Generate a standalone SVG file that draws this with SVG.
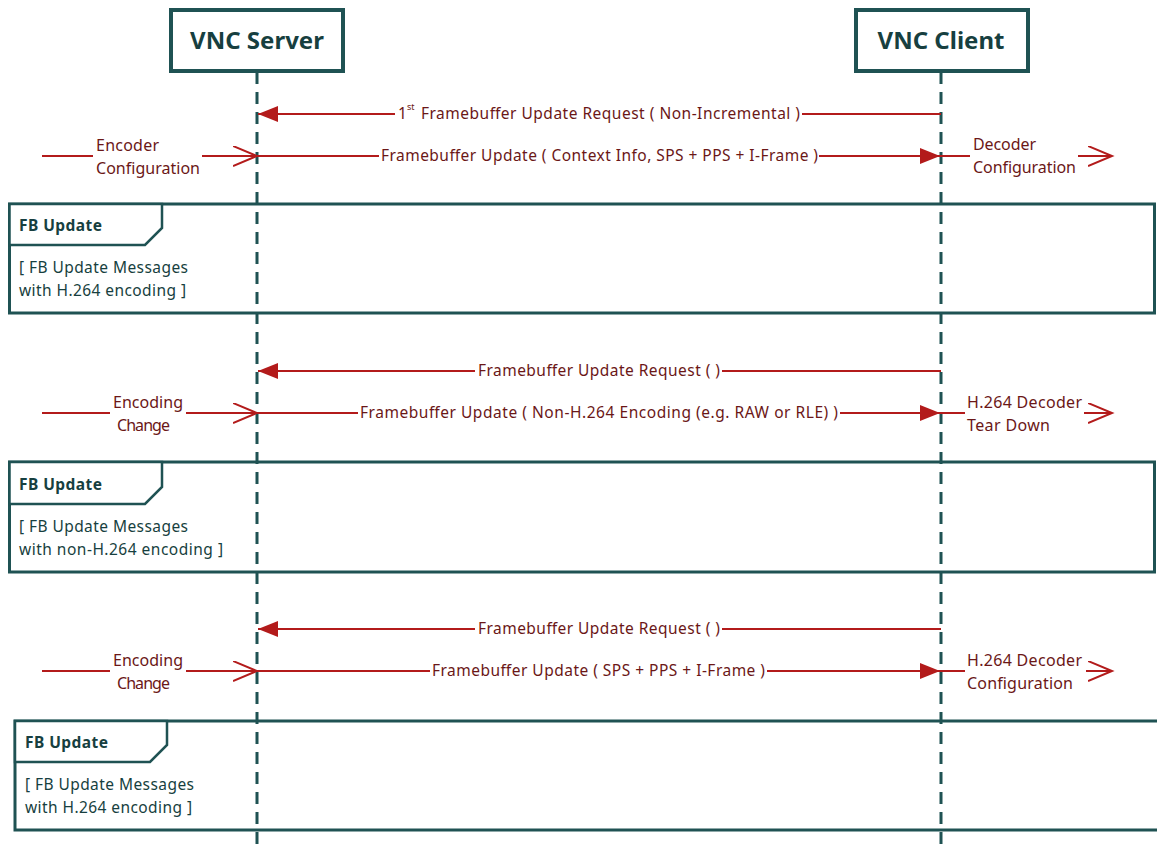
<svg xmlns="http://www.w3.org/2000/svg" width="1157" height="848" viewBox="0 0 1157 848">
  <style>
    .life { stroke: #1f5253; stroke-width: 3; stroke-dasharray: 12 8; fill: none; }
    .head { fill: #fff; stroke: #1f5253; stroke-width: 4; }
    .title { font-family: "Noto Sans", "Liberation Sans", sans-serif; font-size: 24px; font-weight: bold; fill: #173f40; text-anchor: middle; }
    .frame { fill: none; stroke: #1f5253; stroke-width: 3; }
    .tab { fill: #fff; stroke: #1f5253; stroke-width: 2.5; }
    .ftitle { font-family: "Noto Sans", "Liberation Sans", sans-serif; font-size: 15.5px; font-weight: bold; fill: #173f40; }
    .guard { font-family: "Noto Sans", "Liberation Sans", sans-serif; font-size: 15.5px; fill: #173f40; }
    .msg { stroke: #b31b1b; stroke-width: 2; fill: none; }
    .lbl { font-family: "Noto Sans", "Liberation Sans", sans-serif; font-size: 15.5px; fill: #6b1717; }
    .side { font-family: "Noto Sans", "Liberation Sans", sans-serif; font-size: 16px; fill: #6b1717; }
  </style>
  <defs>
    <marker id="filled" markerUnits="userSpaceOnUse" markerWidth="22" markerHeight="18" refX="20" refY="8" orient="auto">
      <path d="M0,0 L20,8 L0,16 Z" fill="#b31b1b"/>
    </marker>
    <marker id="open" markerUnits="userSpaceOnUse" markerWidth="28" markerHeight="24" refX="24" refY="10" orient="auto">
      <path d="M0,0 L24,10 L0,20" fill="none" stroke="#b31b1b" stroke-width="2"/>
    </marker>
  </defs>

  <!-- lifelines -->
  <g id="lifelines">
    <line class="life" x1="257" y1="72" x2="257" y2="848"/>
    <line class="life" x1="941" y1="72" x2="941" y2="848"/>
  </g>

  <!-- participants -->
  <g id="vnc-server">
    <rect class="head" x="171" y="10" width="172" height="61"/>
    <text class="title" x="257" y="49">VNC Server</text>
  </g>
  <g id="vnc-client">
    <rect class="head" x="856" y="10" width="172" height="61"/>
    <text class="title" x="941" y="49">VNC Client</text>
  </g>

  <!-- combined fragments -->
  <g id="fb-update-1">
    <rect class="frame" x="9.5" y="204" width="1145" height="109"/>
    <path class="tab" d="M9.5,204 H162 V228 L145,245 H9.5 Z"/>
    <text class="ftitle" x="19" y="231" textLength="83">FB Update</text>
    <text class="guard" x="19" y="273" textLength="169">[ FB Update Messages</text>
    <text class="guard" x="19" y="296" textLength="167">with H.264 encoding ]</text>
  </g>
  <g id="fb-update-2">
    <rect class="frame" x="9.5" y="462" width="1145" height="110"/>
    <path class="tab" d="M9.5,462 H162 V487 L145,504 H9.5 Z"/>
    <text class="ftitle" x="19" y="490" textLength="83">FB Update</text>
    <text class="guard" x="19" y="532" textLength="169">[ FB Update Messages</text>
    <text class="guard" x="19" y="555" textLength="204">with non-H.264 encoding ]</text>
  </g>
  <g id="fb-update-3">
    <path class="frame" d="M1160,721 H15 V830 H1160"/>
    <path class="tab" d="M15,721 H167 V745 L150,762 H15 Z"/>
    <text class="ftitle" x="25" y="748" textLength="83">FB Update</text>
    <text class="guard" x="25" y="790" textLength="169">[ FB Update Messages</text>
    <text class="guard" x="25" y="813" textLength="167">with H.264 encoding ]</text>
  </g>

  <!-- messages -->
  <g id="connectors">
    <!-- first request -->
    <line class="msg" x1="941" y1="114" x2="802" y2="114"/>
    <line class="msg" x1="395" y1="114" x2="258" y2="114" marker-end="url(#filled)"/>
    <!-- context update -->
    <line class="msg" x1="42" y1="156" x2="93" y2="156"/>
    <line class="msg" x1="202" y1="156" x2="257" y2="156" marker-end="url(#open)"/>
    <line class="msg" x1="257" y1="156" x2="379" y2="156"/>
    <line class="msg" x1="819" y1="156" x2="940" y2="156" marker-end="url(#filled)"/>
    <line class="msg" x1="940" y1="156" x2="970" y2="156"/>
    <line class="msg" x1="1078" y1="156" x2="1112" y2="156" marker-end="url(#open)"/>

    <!-- second request -->
    <line class="msg" x1="941" y1="371" x2="722" y2="371"/>
    <line class="msg" x1="475" y1="371" x2="258" y2="371" marker-end="url(#filled)"/>
    <!-- non-H.264 update -->
    <line class="msg" x1="42" y1="413" x2="110" y2="413"/>
    <line class="msg" x1="186" y1="413" x2="257" y2="413" marker-end="url(#open)"/>
    <line class="msg" x1="257" y1="413" x2="358" y2="413"/>
    <line class="msg" x1="840" y1="413" x2="940" y2="413" marker-end="url(#filled)"/>
    <line class="msg" x1="940" y1="413" x2="965" y2="413"/>
    <line class="msg" x1="1084" y1="413" x2="1112" y2="413" marker-end="url(#open)"/>

    <!-- third request -->
    <line class="msg" x1="941" y1="629" x2="722" y2="629"/>
    <line class="msg" x1="475" y1="629" x2="258" y2="629" marker-end="url(#filled)"/>
    <!-- H.264 update -->
    <line class="msg" x1="42" y1="671" x2="110" y2="671"/>
    <line class="msg" x1="186" y1="671" x2="257" y2="671" marker-end="url(#open)"/>
    <line class="msg" x1="257" y1="671" x2="430" y2="671"/>
    <line class="msg" x1="767" y1="671" x2="940" y2="671" marker-end="url(#filled)"/>
    <line class="msg" x1="940" y1="671" x2="965" y2="671"/>
    <line class="msg" x1="1086" y1="671" x2="1112" y2="671" marker-end="url(#open)"/>
  </g>

  <!-- message labels -->
  <g id="labels">
    <text class="lbl" x="398" y="119">1</text>
    <text class="lbl" x="407" y="110" style="font-size:9px">st</text>
    <text class="lbl" x="421" y="119" textLength="379">Framebuffer Update Request ( Non-Incremental )</text>

    <text class="side" x="96" y="151" textLength="63">Encoder</text>
    <text class="side" x="96" y="174" textLength="104">Configuration</text>
    <text class="lbl" x="381" y="161" textLength="437">Framebuffer Update ( Context Info, SPS + PPS + I-Frame )</text>
    <text class="side" x="973" y="150" textLength="63">Decoder</text>
    <text class="side" x="973" y="173" textLength="103">Configuration</text>

    <text class="lbl" x="478" y="376" textLength="242">Framebuffer Update Request ( )</text>
    <text class="side" x="113" y="408" textLength="70">Encoding</text>
    <text class="side" x="117" y="431" textLength="53">Change</text>
    <text class="lbl" x="360" y="418" textLength="478">Framebuffer Update ( Non-H.264 Encoding (e.g. RAW or RLE) )</text>
    <text class="side" x="967" y="408" textLength="115">H.264 Decoder</text>
    <text class="side" x="967" y="431" textLength="83">Tear Down</text>

    <text class="lbl" x="478" y="634" textLength="242">Framebuffer Update Request ( )</text>
    <text class="side" x="113" y="666" textLength="70">Encoding</text>
    <text class="side" x="117" y="689" textLength="53">Change</text>
    <text class="lbl" x="432" y="676" textLength="333">Framebuffer Update ( SPS + PPS + I-Frame )</text>
    <text class="side" x="967" y="666" textLength="115">H.264 Decoder</text>
    <text class="side" x="967" y="689" textLength="106">Configuration</text>
  </g>
</svg>
